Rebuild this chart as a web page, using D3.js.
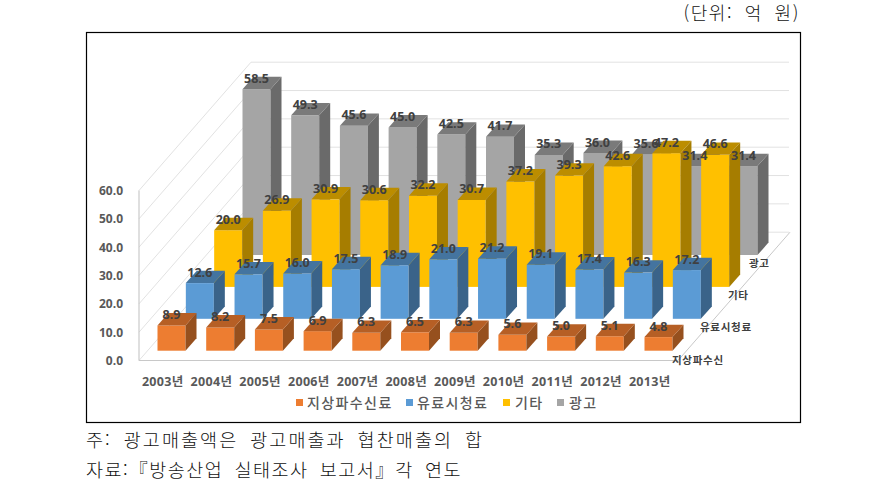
<!DOCTYPE html>
<html lang="ko">
<head>
<meta charset="utf-8">
<script src="https://cdn.jsdelivr.net/npm/d3@7"></script>
<style>
html,body{margin:0;padding:0;background:#fff;}
svg{display:block;}
text{font-family:"Open Sans","Noto Sans CJK KR",sans-serif;}
</style>
</head>
<body>
<svg id="c" width="888" height="497"></svg>
<script>
const years = ["2003년","2004년","2005년","2006년","2007년","2008년","2009년","2010년","2011년","2012년","2013년"];
const rowLabels = ["지상파수신","유료시청료","기타","광고"];
const legendLabels = ["지상파수신료","유료시청료","기타","광고"];
const yTicks = [0,10,20,30,40,50,60];
const terrestrial = [8.9,8.2,7.5,6.9,6.3,6.5,6.3,5.6,5.0,5.1,4.8];
const paid = [12.6,15.7,16.0,17.5,18.9,21.0,21.2,19.1,17.4,16.3,17.2];
const other = [20.0,26.9,30.9,30.6,32.2,30.7,37.2,39.3,42.6,47.2,46.6];
const ads = [58.5,49.3,45.6,45.0,42.5,41.7,35.3,36.0,35.6,31.4,31.4];
const seriesValues = [terrestrial,paid,other,ads];
const palette = [
  {front:"#ED7D31",top:"#B65F25",side:"#96501E"},
  {front:"#5B9BD5",top:"#44749F",side:"#3A6389"},
  {front:"#FFC000",top:"#BC8D00",side:"#A67D00"},
  {front:"#A5A5A5",top:"#7A7A7A",side:"#6A6A6A"}
];

const svg = d3.select("#c");
const fontCJK = '"Noto Sans CJK KR",sans-serif';

// Projection: category along x, series along the depth axis, value up.
const xScale = d3.scalePoint().domain(d3.range(years.length)).range([157.5,644.5]);
const rowX = d3.scalePoint().domain(d3.range(4)).range([0,85]);
const rowY = d3.scalePoint().domain(d3.range(4)).range([350.7,255]);
const hScale = d3.scaleLinear().domain([0,60]).range([0,170]);
const barW = 28, depthX = 11, depthY = 12.4;

// page frame
svg.append("rect").attr("x",86.5).attr("y",32.5).attr("width",714).attr("height",390)
  .attr("fill","#fff").attr("stroke","#000").attr("stroke-width",1.2);

// chart walls
const gridCol = "#E2E2E2";
const floorFL = {x:139,y:360.5}, floorDepth = {x:112,y:-128.3}, floorRightX = 678;
const grid = svg.append("g");
yTicks.forEach(t=>{
  const h = hScale(t);
  grid.append("line").attr("x1",floorFL.x+floorDepth.x).attr("x2",floorRightX+floorDepth.x-1)
    .attr("y1",floorFL.y+floorDepth.y-h).attr("y2",floorFL.y+floorDepth.y-h)
    .attr("stroke",gridCol).attr("stroke-width",1);
  grid.append("line").attr("x1",floorFL.x).attr("x2",floorFL.x+floorDepth.x)
    .attr("y1",floorFL.y-h).attr("y2",floorFL.y+floorDepth.y-h)
    .attr("stroke",gridCol).attr("stroke-width",1);
});
grid.append("line").attr("x1",floorFL.x).attr("x2",floorFL.x)
  .attr("y1",floorFL.y).attr("y2",floorFL.y-hScale(60)).attr("stroke","#BFBFBF").attr("stroke-width",1);
grid.append("line").attr("x1",floorFL.x).attr("x2",floorRightX)
  .attr("y1",floorFL.y).attr("y2",floorFL.y).attr("stroke","#C8C8C8").attr("stroke-width",1.2);
grid.append("line").attr("x1",floorRightX).attr("x2",floorRightX+floorDepth.x)
  .attr("y1",floorFL.y).attr("y2",floorFL.y+floorDepth.y).attr("stroke","#C8C8C8").attr("stroke-width",1);

// bars, back row first
const bars = svg.append("g");
[3,2,1,0].forEach(r=>{
  const c = palette[r];
  seriesValues[r].forEach((v,i)=>{
    const x = xScale(i)+rowX(r), base = rowY(r), h = hScale(v), t = base-h;
    const g = bars.append("g");
    g.append("rect").attr("x",x).attr("y",t).attr("width",barW).attr("height",h).attr("fill",c.front);
    g.append("path").attr("fill",c.side)
      .attr("d",d3.line()([[x+barW,t],[x+barW+depthX,t-depthY],[x+barW+depthX,base-depthY],[x+barW,base]])+"Z");
    g.append("path").attr("fill",c.top)
      .attr("d",d3.line()([[x,t],[x+depthX,t-depthY],[x+barW+depthX,t-depthY],[x+barW,t]])+"Z");
  });
});

// value labels on top of everything
const labels = svg.append("g").attr("font-size",12.5).attr("font-weight",700).attr("fill","#404040").attr("text-anchor","middle");
[3,2,1,0].forEach(r=>{
  seriesValues[r].forEach((v,i)=>{
    labels.append("text").attr("x",xScale(i)+rowX(r)+barW/2)
      .attr("y",rowY(r)-hScale(v)-6.5).text(v.toFixed(1));
  });
});

// value axis
const tickG = svg.append("g").attr("font-size",12).attr("font-weight",700).attr("fill","#595959").attr("text-anchor","end");
yTicks.forEach(t=>{
  tickG.append("text").attr("x",123).attr("y",floorFL.y-hScale(t)+4.5).text(t.toFixed(1));
});

// category axis
const catG = svg.append("g").attr("font-size",12.5).attr("font-weight",700).attr("fill","#595959").attr("text-anchor","middle").attr("letter-spacing",0.3);
years.forEach((y,i)=>{
  catG.append("text").attr("x",xScale(i)+5.2).attr("y",386).text(y);
});

// depth axis labels
const rowLabelLeft = [672,700,728,749], rowLabelY = [364,331,299,267];
const rowG = svg.append("g").attr("font-size",10.5).attr("font-weight",700).attr("fill","#404040").attr("letter-spacing",0.7);
rowLabels.forEach((s,i)=>{
  rowG.append("text").attr("x",rowLabelLeft[i]).attr("y",rowLabelY[i]).text(s).style("font-family",fontCJK);
});

// legend
const legendSwatch = [296,406,503,557], legendText = [307,417,515,569];
const legG = svg.append("g").attr("font-size",14).attr("fill","#595959").attr("letter-spacing",1.4);
legendLabels.forEach((s,i)=>{
  legG.append("rect").attr("x",legendSwatch[i]).attr("y",399).attr("width",7).attr("height",7).attr("fill",palette[i].front);
  legG.append("text").attr("x",legendText[i]).attr("y",408).text(s).style("font-family",fontCJK).style("font-weight",500);
});

// page text
svg.append("text").attr("x",800).attr("y",20).attr("text-anchor","end")
  .attr("font-size",18).attr("fill","#111").attr("letter-spacing",1.6).attr("word-spacing",5).style("font-family",fontCJK).style("font-weight",300).text("(단위: 억 원)");
svg.append("text").attr("x",86).attr("y",447).attr("font-size",18.5).attr("fill","#111").attr("letter-spacing",2.1)
  .attr("word-spacing",4.5).style("font-family",fontCJK).style("font-weight",300).text("주: 광고매출액은 광고매출과 협찬매출의 합");
svg.append("text").attr("x",86).attr("y",477).attr("font-size",18.5).attr("fill","#111").attr("letter-spacing",1.5)
  .attr("word-spacing",4.5).style("font-family",fontCJK).style("font-weight",300).text("자료:『방송산업 실태조사 보고서』각 연도");
</script>
</body>
</html>
